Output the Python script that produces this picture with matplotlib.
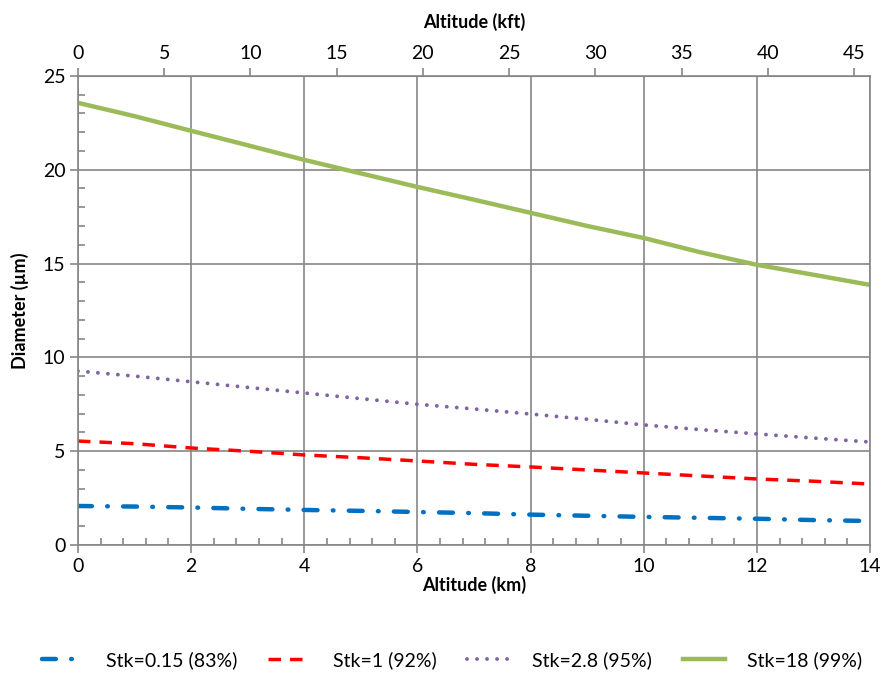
import matplotlib
matplotlib.use("Agg")
import matplotlib.pyplot as plt
from matplotlib.ticker import MultipleLocator

plt.rcParams['font.family'] = ['Lato', 'DejaVu Sans']
plt.rcParams['lines.scale_dashes'] = False

# altitude in km and diameters
altitude_km = [0, 1, 2, 3, 4, 5, 6, 7, 8, 9, 10, 11, 12, 13, 14]
stk_015 = [2.08, 2.05, 2.0, 1.93, 1.87, 1.82, 1.76, 1.7, 1.62, 1.56, 1.5, 1.45, 1.4, 1.33, 1.28]
stk_1 = [5.54, 5.4, 5.17, 5.0, 4.8, 4.65, 4.48, 4.3, 4.16, 4.0, 3.84, 3.68, 3.52, 3.4, 3.25]
stk_28 = [9.27, 9.0, 8.7, 8.4, 8.1, 7.8, 7.5, 7.25, 6.98, 6.7, 6.4, 6.15, 5.92, 5.7, 5.49]
stk_18 = [23.56, 22.85, 22.07, 21.3, 20.52, 19.8, 19.08, 18.4, 17.7, 17.0, 16.36, 15.6, 14.93, 14.4, 13.86]

labels = ["Stk=0.15 (83%)", "Stk=1 (92%)", "Stk=2.8 (95%)", "Stk=18 (99%)"]
kft_ticks = [0, 5, 10, 15, 20, 25, 30, 35, 40, 45]
KM_TO_KFT = 3.28084

fig = plt.figure(figsize=(8.86, 6.83), dpi=100)
ax = fig.add_axes([0.088, 0.202, 0.894, 0.687])

ax.plot(altitude_km, stk_015, color='#0070C0', lw=3.2, dash_capstyle='round',
        linestyle=(0, (10, 11, 0.5, 11)), label=labels[0])
ax.plot(altitude_km, stk_1, color='#FF0000', lw=2.5, linestyle=(0, (9, 6.5)), label=labels[1])
ax.plot(altitude_km, stk_28, color='#8064A2', lw=2.8, dash_capstyle='round',
        linestyle=(0, (0.01, 7.2)), label=labels[2])
ax.plot(altitude_km, stk_18, color='#9BBB59', lw=3.2, label=labels[3])

ax.set_xlim(0, 14)
ax.set_ylim(0, 25)
ax.xaxis.set_major_locator(MultipleLocator(2))
ax.xaxis.set_minor_locator(MultipleLocator(0.4))
ax.yaxis.set_major_locator(MultipleLocator(5))
ax.yaxis.set_minor_locator(MultipleLocator(1))
ax.grid(True, which='major', color='#868686', lw=1.2)
ax.set_axisbelow(True)
for s in ax.spines.values():
    s.set_color('#868686')
    s.set_linewidth(1.2)
ax.tick_params(which='major', direction='out', length=6, width=1.2, color='#868686',
               labelsize=14, pad=3)
ax.tick_params(which='minor', direction='in', length=5, width=1.2, color='#868686')

ax.set_xlabel("Altitude (km)", fontsize=13, fontweight='bold', labelpad=1)
ax.set_ylabel("Diameter (µm)", fontsize=13, fontweight='bold', labelpad=10)

top = ax.secondary_xaxis('top', functions=(lambda x: x * KM_TO_KFT, lambda x: x / KM_TO_KFT))
top.set_xticks(kft_ticks)
top.tick_params(direction='out', length=6, width=1.2, color='#868686', labelsize=14, pad=4)
top.spines['top'].set_color('#868686')
top.set_xlabel("Altitude (kft)", fontsize=13, fontweight='bold', labelpad=12)

fig.legend(loc='center', bbox_to_anchor=(0.51, 0.034), ncol=4, frameon=False,
           fontsize=14, handlelength=2.2, columnspacing=1.6, handletextpad=1.1)

fig.savefig("out.png", dpi=100)
